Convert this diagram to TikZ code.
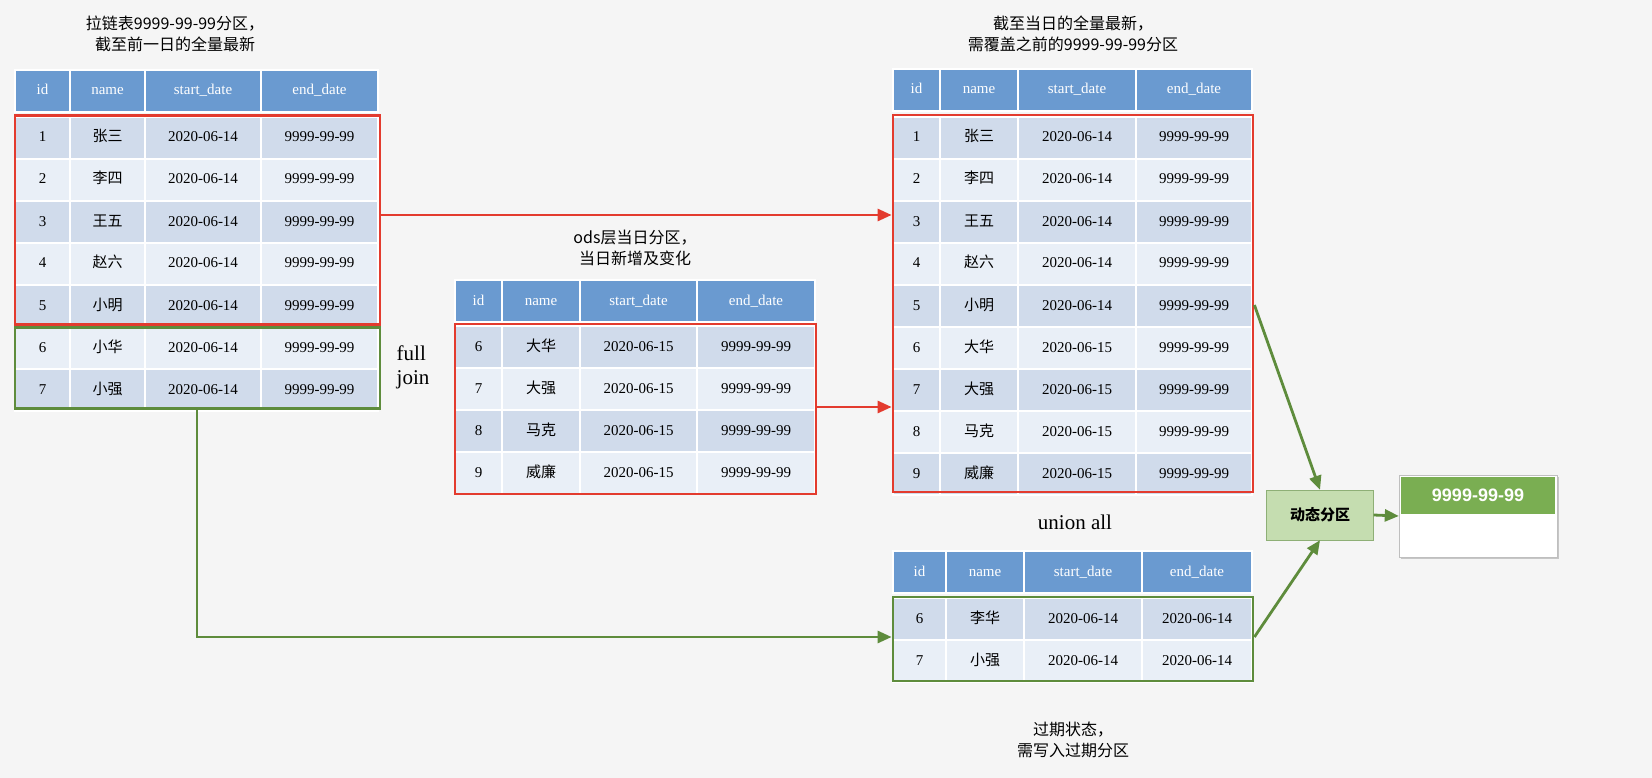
\documentclass[tikz,border=0pt]{standalone}
\usepackage{fontspec}
\setmainfont{Liberation Serif}
\newfontfamily\cjk{Noto Sans CJK SC}
\usetikzlibrary{arrows.meta,shadows}
\definecolor{hdr}{HTML}{6A9AD0}
\definecolor{rdark}{HTML}{D0DBEB}
\definecolor{rlight}{HTML}{E9EFF7}
\definecolor{myred}{HTML}{E33B2E}
\definecolor{mygreen}{HTML}{5E8C3C}
\definecolor{dynfill}{HTML}{C5DDB0}
\definecolor{outhdr}{HTML}{7AAE52}
\newcommand\setcols[5]{\def\ca{#1}\def\cb{#2}\def\cc{#3}\def\cd{#4}\def\ce{#5}}
\newcommand\trow[8]{%
 \node[cell,fill=#3,minimum width={\cb-\ca}] (#1-1) at ({(\ca+\cb)/2},#2) {#4};
 \node[cell,fill=#3,minimum width={\cc-\cb}] (#1-2) at ({(\cb+\cc)/2},#2) {#5};
 \node[cell,fill=#3,minimum width={\cd-\cc}] (#1-3) at ({(\cc+\cd)/2},#2) {#6};
 \node[cell,fill=#3,minimum width={\ce-\cd},#8] (#1-4) at ({(\cd+\ce)/2},#2) {#7};}
\newcommand\thead[2]{\trow{#1}{#2}{hdr}{\color{white}id}{\color{white}name}{\color{white}start\_date}{\color{white}end\_date}{}}
\tikzset{cell/.style={draw=white,line width=1.2pt,minimum height=42pt,inner sep=0pt,text height=11pt,text depth=3pt,font=\fontsize{15}{18}\selectfont},
 redbox/.style={draw=myred,line width=2.8pt},
 greenbox/.style={draw=mygreen,line width=2.8pt},
 redarr/.style={draw=myred,line width=2.8pt,-{Triangle[length=14pt,width=12pt]}},
 greenarr/.style={draw=mygreen,line width=2.8pt,-{Triangle[length=14pt,width=12pt]}},
 captxt/.style={font=\cjk\fontsize{16}{21}\selectfont,align=center},
 big/.style={font=\fontsize{21}{24}\selectfont,align=left}}
\begin{document}
\begin{tikzpicture}[x=1pt,y=-1pt]
\fill[white!96!black] (0,0) rectangle (1652,778);
\useasboundingbox (0,0) rectangle (1652,778);
% Table A
\setcols{15}{70}{145}{261}{378}
\thead{AH}{91}
\trow{A1}{138}{rdark}{1}{\cjk 张三}{2020-06-14}{9999-99-99}{}
\trow{A2}{180}{rlight}{2}{\cjk 李四}{2020-06-14}{9999-99-99}{}
\trow{A3}{222}{rdark}{3}{\cjk 王五}{2020-06-14}{9999-99-99}{}
\trow{A4}{264}{rlight}{4}{\cjk 赵六}{2020-06-14}{9999-99-99}{}
\trow{A5}{306}{rdark}{5}{\cjk 小明}{2020-06-14}{9999-99-99}{}
\trow{A6}{348}{rlight}{6}{\cjk 小华}{2020-06-14}{9999-99-99}{}
\trow{A7}{390}{rdark}{7}{\cjk 小强}{2020-06-14}{9999-99-99}{}
\node[redbox,minimum width=365pt,minimum height=209pt,inner sep=0pt] (Ared) at (197.5,220) {};
\node[greenbox,minimum width=365pt,minimum height=81pt,inner sep=0pt] (Agreen) at (197.5,368) {};
\node[captxt] (capA) at (175,34) {拉链表9999-99-99分区，\\截至前一日的全量最新};
% Table B
\setcols{455}{502}{580}{697}{815}
\thead{BH}{301}
\trow{B6}{347}{rdark}{6}{\cjk 大华}{2020-06-15}{9999-99-99}{}
\trow{B7}{389}{rlight}{7}{\cjk 大强}{2020-06-15}{9999-99-99}{}
\trow{B8}{431}{rdark}{8}{\cjk 马克}{2020-06-15}{9999-99-99}{}
\trow{B9}{473}{rlight}{9}{\cjk 威廉}{2020-06-15}{9999-99-99}{}
\node[redbox,minimum width=361pt,minimum height=170pt,inner sep=0pt] (Bred) at (635.5,409) {};
\node[captxt] (capB) at (635,248) {ods层当日分区，\\当日新增及变化};
\node[big] (fj) at (413,367) {full\\join};
% Table C
\setcols{893}{940}{1018}{1136}{1252}
\thead{CH}{90}
\trow{C1}{138}{rdark}{1}{\cjk 张三}{2020-06-14}{9999-99-99}{}
\trow{C2}{180}{rlight}{2}{\cjk 李四}{2020-06-14}{9999-99-99}{}
\trow{C3}{222}{rdark}{3}{\cjk 王五}{2020-06-14}{9999-99-99}{}
\trow{C4}{264}{rlight}{4}{\cjk 赵六}{2020-06-14}{9999-99-99}{}
\trow{C5}{306}{rdark}{5}{\cjk 小明}{2020-06-14}{9999-99-99}{}
\trow{C6}{348}{rlight}{6}{\cjk 大华}{2020-06-15}{9999-99-99}{}
\trow{C7}{390}{rdark}{7}{\cjk 大强}{2020-06-15}{9999-99-99}{}
\trow{C8}{432}{rlight}{8}{\cjk 马克}{2020-06-15}{9999-99-99}{}
\trow{C9}{474}{rdark}{9}{\cjk 威廉}{2020-06-15}{9999-99-99}{}
\node[redbox,minimum width=360pt,minimum height=377pt,inner sep=0pt] (Cred) at (1073,303.5) {};
\node[captxt] (capC) at (1073,34) {截至当日的全量最新，\\需覆盖之前的9999-99-99分区};
% Table D
\setcols{893}{946}{1024}{1142}{1252}
\thead{DH}{572}
\trow{D6}{619}{rdark}{6}{\cjk 李华}{2020-06-14}{2020-06-14}{}
\trow{D7}{661}{rlight}{7}{\cjk 小强}{2020-06-14}{2020-06-14}{}
\node[greenbox,minimum width=360pt,minimum height=84pt,inner sep=0pt] (Dgreen) at (1073,639) {};
\node[big] (ua) at (1075,522) {union all};
\node[captxt] (capD) at (1073,740) {过期状态，\\需写入过期分区};
% dynamic partition
\node[draw=mygreen!70,fill=dynfill,minimum width=107pt,minimum height=50pt,font=\cjk\bfseries\fontsize{15}{18}\selectfont] (dyn) at (1320,515) {动态分区};
\node[fill=white,draw=black!25,minimum width=158pt,minimum height=82pt,drop shadow={opacity=0.4}] (out) at (1478,516) {};
\node[fill=outhdr,minimum width=154pt,minimum height=37pt,text=white,anchor=north] (outh) at ([yshift=-2pt]out.north) {\fontspec{Liberation Sans}\bfseries\fontsize{18}{20}\selectfont 9999-99-99};
% arrows
\draw[redarr] (Ared.east |- 0,215) -- (Cred.west |- 0,215);
\draw[redarr] (Bred.east |- 0,407) -- (Cred.west |- 0,407);
\draw[greenarr] (Agreen.south -| 197,0) |- (Dgreen.west |- 0,637);
\draw[greenarr] (Cred.east |- 0,305) -- (dyn.north);
\draw[greenarr] (Dgreen.east |- 0,637) -- (dyn.south);
\draw[greenarr] (dyn.east) -- (out.west);
\end{tikzpicture}
\end{document}
